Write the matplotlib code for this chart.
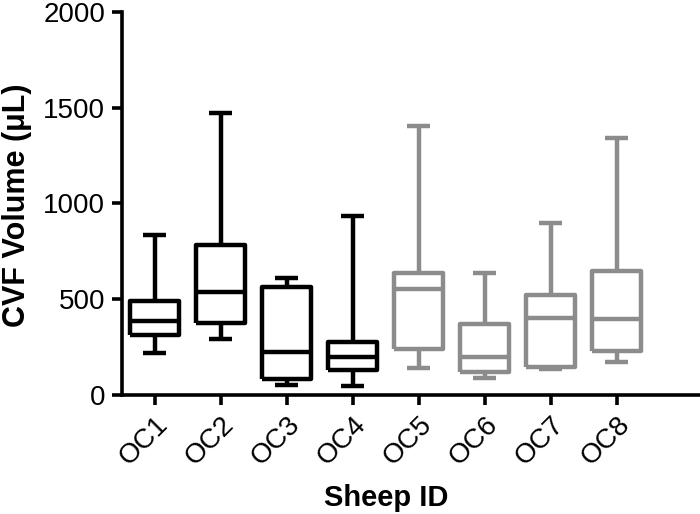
import matplotlib.pyplot as plt

plt.rcParams['font.family'] = ['Liberation Sans', 'DejaVu Sans']

# box plot summary values (min to max whiskers)
sheep = ['OC1', 'OC2', 'OC3', 'OC4', 'OC5', 'OC6', 'OC7', 'OC8']
mins = [221, 290, 51, 47, 139, 87, 134, 174]
q1s = [313, 377, 82, 130, 241, 122, 148, 231]
medians = [388, 539, 226, 200, 551, 197, 400, 395]
q3s = [492, 782, 565, 278, 635, 370, 522, 648]
maxs = [835, 1471, 612, 935, 1405, 635, 896, 1339]
colors = ['black'] * 4 + ['#8c8c8c'] * 4

fig = plt.figure(figsize=(7, 5.14), dpi=100)
ax = fig.add_axes([0.174, 0.2315, 0.826, 0.7457])

for i in range(len(sheep)):
    stats = [dict(med=medians[i], q1=q1s[i], q3=q3s[i],
                  whislo=mins[i], whishi=maxs[i], fliers=[])]
    c = colors[i]
    props = dict(color=c, linewidth=3.2, solid_joinstyle='round', solid_capstyle='butt')
    ax.bxp(stats, positions=[i + 1], widths=0.74, showfliers=False,
           capwidths=0.35,
           boxprops=props, medianprops=props, whiskerprops=props, capprops=props)

ax.set_xlim(0.5, 9.26)
ax.set_ylim(0, 2000)
ax.set_yticks([0, 500, 1000, 1500, 2000])
ax.set_xticks(range(1, len(sheep) + 1))
ax.set_xticklabels(sheep, rotation=45, ha='right', rotation_mode='anchor')

for s in ['top', 'right']:
    ax.spines[s].set_visible(False)
for s in ['left', 'bottom']:
    ax.spines[s].set_linewidth(2.6)
ax.tick_params(width=2.6, length=7, labelsize=20, pad=5)

ax.set_ylabel('CVF Volume (\u03bcL)', fontsize=22, fontweight='bold', va='center')
ax.yaxis.set_label_coords(-0.181, 0.496)
ax.set_xlabel('Sheep ID', fontsize=21, fontweight='bold', va='center')
ax.xaxis.set_label_coords(0.457, -0.269)

fig.savefig('out.png', dpi=100)
